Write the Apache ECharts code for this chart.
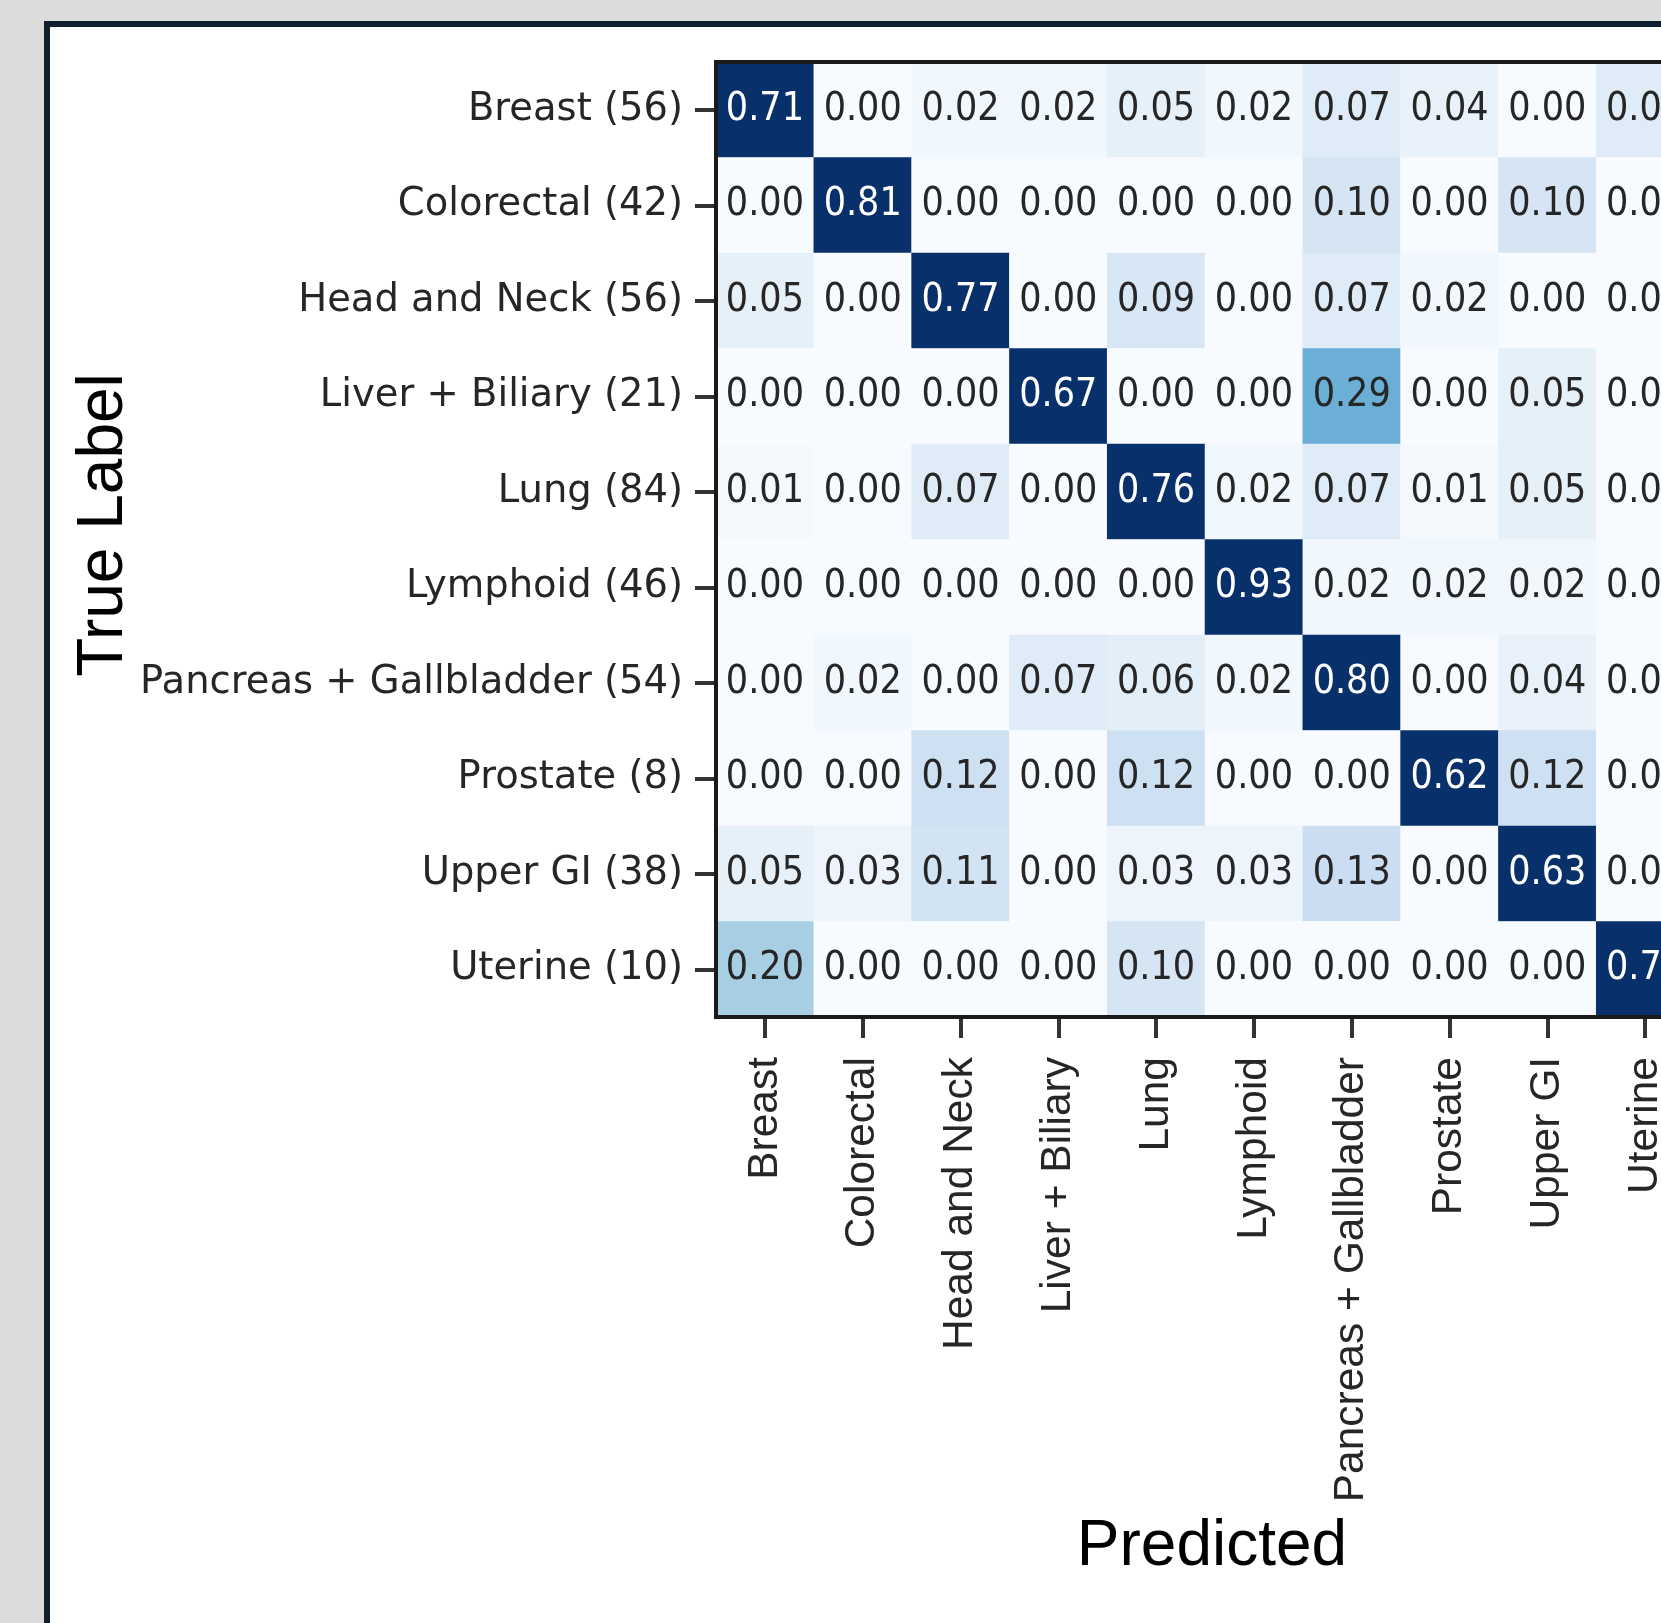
<!DOCTYPE html>
<html>
<head>
<meta charset="utf-8">
<script src="https://cdn.jsdelivr.net/npm/echarts@6/dist/echarts.min.js"></script>
<style>
    html, body { margin: 0; padding: 0; background: #dcdcdc; overflow: hidden; width: 1661px; height: 1623px; }
    #panel { position: absolute; left: 44px; top: 21px; width: 1800px; height: 1800px; background: #fff;
             border-left: 6px solid #0f1f2e; border-top: 6px solid #0f1f2e; }
    #content-first { position: absolute; left: 0; top: 0; width: 1800px; height: 1623px; }
</style>
</head>
<body>
<div id="panel"></div>
<div id="content-first"></div>
<script>
// 类别和样本数
var classes = ['Breast', 'Colorectal', 'Head and Neck', 'Liver + Biliary', 'Lung', 'Lymphoid',
    'Pancreas + Gallbladder', 'Prostate', 'Upper GI', 'Uterine'];
var counts = [56, 42, 56, 21, 84, 46, 54, 8, 38, 10];

// 每一行 = 真实类别，每一列 = 预测类别
var rowBreast     = [0.71, 0.00, 0.02, 0.02, 0.05, 0.02, 0.07, 0.04, 0.00, 0.07];
var rowColorectal = [0.00, 0.81, 0.00, 0.00, 0.00, 0.00, 0.10, 0.00, 0.10, 0.00];
var rowHeadNeck   = [0.05, 0.00, 0.77, 0.00, 0.09, 0.00, 0.07, 0.02, 0.00, 0.00];
var rowLiver      = [0.00, 0.00, 0.00, 0.67, 0.00, 0.00, 0.29, 0.00, 0.05, 0.00];
var rowLung       = [0.01, 0.00, 0.07, 0.00, 0.76, 0.02, 0.07, 0.01, 0.05, 0.00];
var rowLymphoid   = [0.00, 0.00, 0.00, 0.00, 0.00, 0.93, 0.02, 0.02, 0.02, 0.00];
var rowPancreas   = [0.00, 0.02, 0.00, 0.07, 0.06, 0.02, 0.80, 0.00, 0.04, 0.00];
var rowProstate   = [0.00, 0.00, 0.12, 0.00, 0.12, 0.00, 0.00, 0.62, 0.12, 0.00];
var rowUpperGI    = [0.05, 0.03, 0.11, 0.00, 0.03, 0.03, 0.13, 0.00, 0.63, 0.00];
var rowUterine    = [0.20, 0.00, 0.00, 0.00, 0.10, 0.00, 0.00, 0.00, 0.00, 0.70];

var rows = [rowBreast, rowColorectal, rowHeadNeck, rowLiver, rowLung, rowLymphoid,
    rowPancreas, rowProstate, rowUpperGI, rowUterine];

var yLabels = classes.map(function (c, i) { return c + ' (' + counts[i] + ')'; });

var data = [];
rows.forEach(function (row, i) {
    row.forEach(function (v, j) {
        data.push({
            value: [j, i, v],
            label: { color: v > 0.465 ? '#ffffff' : '#262626' }
        });
    });
});

var myChart = echarts.init(document.getElementById('content-first'), null, { renderer: 'canvas' });

var option = {
    animation: false,
    backgroundColor: 'transparent',
    grid: {
        left: 716,
        top: 62,
        width: 978,
        height: 955
    },
    xAxis: {
        type: 'category',
        data: classes,
        position: 'bottom',
        axisLine: { show: true, lineStyle: { color: '#1a1a1a', width: 4 } },
        axisTick: {
            show: true,
            alignWithLabel: true,
            length: 21,
            lineStyle: { color: '#333', width: 4 }
        },
        axisLabel: {
            rotate: 90,
            margin: 40,
            interval: 0,
            fontFamily: 'Liberation Sans, Arial',
            fontSize: 42.5,
            color: '#262626'
        },
        splitLine: { show: false }
    },
    yAxis: {
        type: 'category',
        data: yLabels,
        inverse: true,
        axisLine: { show: true, lineStyle: { color: '#1a1a1a', width: 4 } },
        axisTick: {
            show: true,
            alignWithLabel: true,
            length: 21,
            lineStyle: { color: '#333', width: 4 }
        },
        axisLabel: {
            margin: 33,
            interval: 0,
            fontFamily: 'DejaVu Sans',
            fontSize: 38.5,
            color: '#262626'
        },
        splitLine: { show: false }
    },
    visualMap: {
        show: false,
        type: 'continuous',
        dimension: 2,
        min: 0,
        max: 0.58,
        inRange: {
            // matplotlib Blues
            color: ['#f7fbff', '#deebf7', '#c6dbef', '#9ecae1', '#6baed6',
                '#4292c6', '#2171b5', '#08519c', '#08306b']
        }
    },
    graphic: [
        {
            type: 'rect',
            z: 100,
            shape: { x: 716, y: 62, width: 978, height: 955 },
            style: { fill: 'none', stroke: '#1a1a1a', lineWidth: 4 }
        },
        {
            type: 'text',
            x: 104,
            y: 525,
            rotation: Math.PI / 2,
            style: {
                text: 'True Label',
                fontFamily: 'Liberation Sans, Arial',
                fontSize: 64,
                fill: '#000',
                align: 'center',
                verticalAlign: 'middle'
            }
        },
        {
            type: 'text',
            x: 1212,
            y: 1547,
            style: {
                text: 'Predicted',
                fontFamily: 'Liberation Sans, Arial',
                fontSize: 64,
                fill: '#000',
                align: 'center',
                verticalAlign: 'middle'
            }
        }
    ],
    series: [
        {
            type: 'heatmap',
            data: data,
            label: {
                show: true,
                fontFamily: 'DejaVu Sans Condensed, DejaVu Sans',
                fontSize: 39,
                formatter: function (p) { return p.value[2].toFixed(2); }
            },
            itemStyle: { borderWidth: 0 },
            emphasis: { disabled: true }
        }
    ]
};

myChart.setOption(option);
</script>
</body>
</html>
